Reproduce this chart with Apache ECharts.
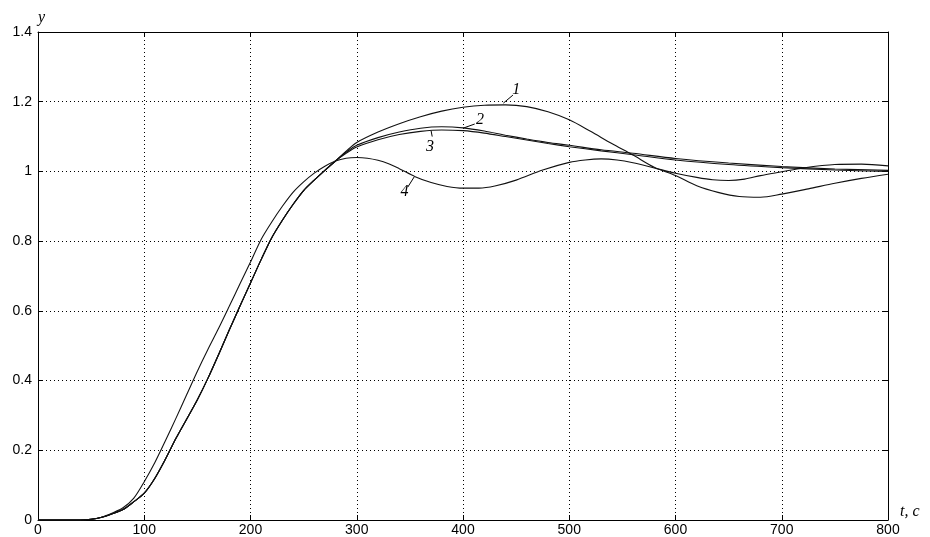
<!DOCTYPE html>
<html>
<head>
<meta charset="utf-8">
<script src="https://cdn.jsdelivr.net/npm/echarts@6/dist/echarts.min.js"></script>
<style>
  html, body { margin: 0; padding: 0; background: #fff; }
  #chart { width: 930px; height: 537px; }
</style>
</head>
<body>
<div id="chart"></div>
<script>
// общий участок разгона для кривых 1-3
var tRise = [0, 40, 50, 60, 70, 80, 90, 100, 110, 120, 130, 140, 150, 160, 170, 180, 190, 200, 210, 220, 230, 240, 250, 260, 270, 280]
var yRise = [0, 0, 0.002, 0.008, 0.018, 0.03, 0.052, 0.077, 0.12, 0.175, 0.235, 0.29, 0.345, 0.407, 0.475, 0.545, 0.613, 0.68, 0.747, 0.81, 0.86, 0.905, 0.945, 0.975, 1.003, 1.03]

// кривая 1
var t1 = [290, 300, 320, 340, 360, 380, 400, 420, 440, 460, 480, 500, 520, 540, 560, 580, 600, 620, 640, 660, 680, 700, 725, 750, 775, 800]
var y1 = [1.058, 1.083, 1.113, 1.137, 1.157, 1.173, 1.184, 1.19, 1.191, 1.186, 1.171, 1.148, 1.115, 1.08, 1.047, 1.012, 0.988, 0.959, 0.94, 0.928, 0.926, 0.935, 0.95, 0.966, 0.98, 0.992]

// кривые 2 и 3
var t23 = [290, 300, 320, 340, 360, 380, 400, 420, 440, 460, 480, 500, 530, 560, 600, 650, 700, 750, 800]
var y2 = [1.055, 1.075, 1.097, 1.113, 1.124, 1.128, 1.125, 1.116, 1.104, 1.093, 1.083, 1.075, 1.062, 1.052, 1.037, 1.024, 1.014, 1.007, 1.003]
var y3 = [1.052, 1.07, 1.091, 1.106, 1.115, 1.119, 1.117, 1.11, 1.1, 1.09, 1.08, 1.071, 1.059, 1.048, 1.033, 1.02, 1.011, 1.004, 1.0]

// кривая 4
var t4 = [0, 40, 50, 60, 70, 80, 90, 100, 110, 120, 130, 140, 150, 160, 170, 180, 190, 200, 210, 220, 230, 240, 250, 260, 270, 280, 290, 300, 310, 320, 330, 340, 355, 370, 385, 400, 415, 430, 450, 475, 500, 515, 530, 545, 560, 580, 600, 620, 635, 650, 665, 680, 700, 720, 750, 775, 800]
var y4 = [0, 0, 0.002, 0.008, 0.02, 0.035, 0.062, 0.11, 0.165, 0.228, 0.293, 0.36, 0.427, 0.49, 0.55, 0.613, 0.677, 0.74, 0.805, 0.855, 0.9, 0.94, 0.97, 0.995, 1.015, 1.03, 1.038, 1.04, 1.038, 1.032, 1.022, 1.008, 0.985, 0.968, 0.957, 0.952, 0.952, 0.958, 0.975, 1.004, 1.026, 1.033, 1.036, 1.033, 1.025, 1.01, 0.995, 0.983, 0.976, 0.974, 0.978, 0.988, 0.999, 1.01, 1.02, 1.021, 1.016]

// подписи кривых: текст и выноска (в координатах данных)
var labelText = ['1', '2', '3', '4']
var labelPos = [[450, 1.233], [416, 1.147], [369, 1.07], [345, 0.941]]
var leaderFrom = [[438, 1.196], [400, 1.124], [370, 1.116], [348, 0.955]]
var leaderTo = [[447, 1.219], [411, 1.136], [371, 1.1], [354, 0.984]]

function pairs(t, y) {
    return t.map(function (v, i) { return [v, y[i]] })
}

var xTicks = 100
var yTicks = 0.2

var lineCommon = {
    type: 'line',
    showSymbol: false,
    smooth: 0.3,
    lineStyle: { color: '#111', width: 1.1 },
    emphasis: { disabled: true }
}

var axisFont = { color: '#000', fontSize: 14, fontFamily: 'Liberation Sans, Arial, sans-serif' }
var nameFont = { fontStyle: 'italic', fontFamily: 'Liberation Serif, Times New Roman, serif', fontSize: 16, color: '#000' }

var option = {
    animation: false,
    backgroundColor: '#fff',
    grid: { left: 38, right: 42, top: 32, bottom: 17 },
    xAxis: [
        {
            type: 'value', min: 0, max: 800, interval: xTicks,
            name: 't, c', nameLocation: 'end', nameGap: 12,
            nameTextStyle: Object.assign({ verticalAlign: 'bottom', padding: [0, 0, 0, 0] }, nameFont),
            axisLine: { onZero: false, lineStyle: { color: '#000', width: 1 } },
            axisTick: { inside: true, length: 5, lineStyle: { color: '#000' } },
            axisLabel: Object.assign({ margin: 3 }, axisFont),
            splitLine: { show: true, lineStyle: { color: '#000', type: [1, 3], width: 1 } }
        },
        {
            type: 'value', min: 0, max: 800, interval: xTicks, position: 'top',
            axisLine: { onZero: false, lineStyle: { color: '#000', width: 1 } },
            axisTick: { inside: true, length: 5, lineStyle: { color: '#000' } },
            axisLabel: { show: false },
            splitLine: { show: false }
        }
    ],
    yAxis: [
        {
            type: 'value', min: 0, max: 1.4, interval: yTicks,
            name: 'y', nameLocation: 'end', nameGap: 6,
            nameTextStyle: Object.assign({ align: 'left' }, nameFont),
            axisLine: { onZero: false, lineStyle: { color: '#000', width: 1 } },
            axisTick: { inside: true, length: 5, lineStyle: { color: '#000' } },
            axisLabel: Object.assign({ margin: 6 }, axisFont),
            splitLine: { show: true, lineStyle: { color: '#000', type: [1, 3], width: 1 } }
        },
        {
            type: 'value', min: 0, max: 1.4, interval: yTicks, position: 'right',
            axisLine: { onZero: false, lineStyle: { color: '#000', width: 1 } },
            axisTick: { inside: true, length: 5, lineStyle: { color: '#000' } },
            axisLabel: { show: false },
            splitLine: { show: false }
        }
    ],
    series: [
        Object.assign({ name: '1', data: pairs(tRise.concat(t1), yRise.concat(y1)) }, lineCommon),
        Object.assign({ name: '2', data: pairs(tRise.concat(t23), yRise.concat(y2)) }, lineCommon),
        Object.assign({ name: '3', data: pairs(tRise.concat(t23), yRise.concat(y3)) }, lineCommon),
        Object.assign({ name: '4', data: pairs(t4, y4) }, lineCommon)
    ]
}

var chart = echarts.init(document.getElementById('chart'), null, { renderer: 'canvas' })
chart.setOption(option)

// выноски с номерами кривых
var graphics = []
labelText.forEach(function (txt, i) {
    var p = chart.convertToPixel({ gridIndex: 0 }, labelPos[i])
    var a = chart.convertToPixel({ gridIndex: 0 }, leaderFrom[i])
    var b = chart.convertToPixel({ gridIndex: 0 }, leaderTo[i])
    graphics.push({
        type: 'line',
        shape: { x1: a[0], y1: a[1], x2: b[0], y2: b[1] },
        style: { stroke: '#000', lineWidth: 1 }
    })
    graphics.push({
        type: 'text',
        x: p[0], y: p[1],
        style: {
            text: txt,
            fill: '#000',
            font: 'italic 16px "Liberation Serif", "Times New Roman", serif',
            align: 'center',
            verticalAlign: 'middle'
        }
    })
})
chart.setOption({ graphic: graphics })
</script>
</body>
</html>
